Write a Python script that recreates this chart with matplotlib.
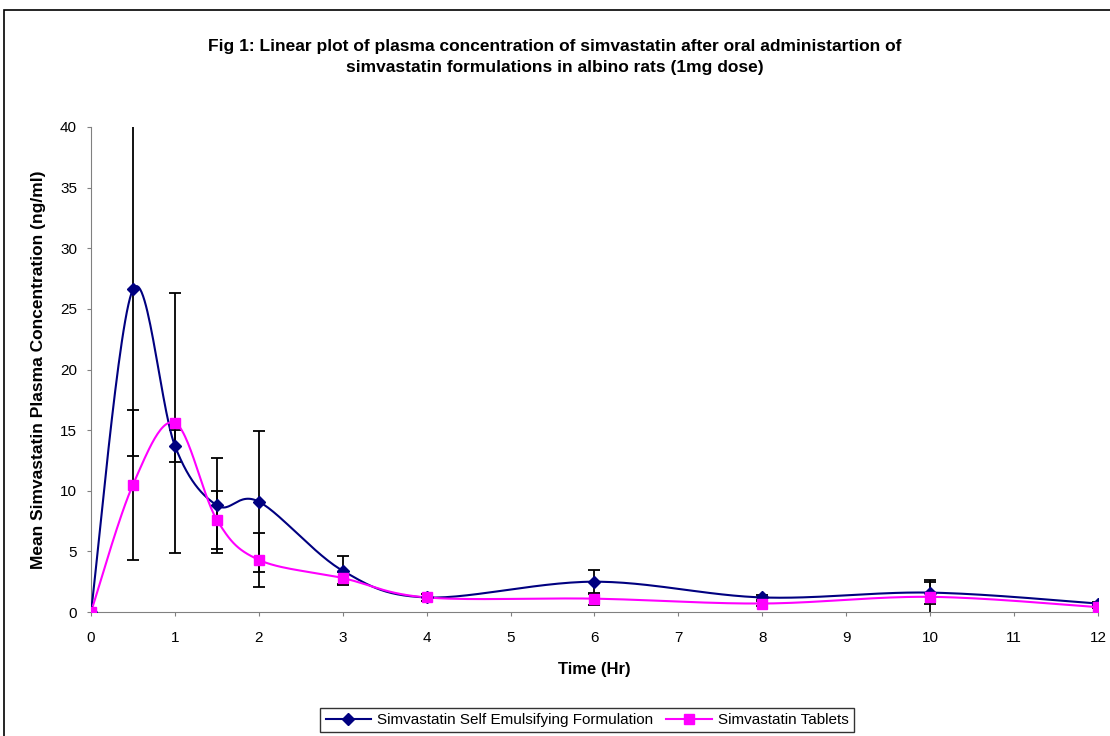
import numpy as np
import matplotlib
matplotlib.use("Agg")
import matplotlib.pyplot as plt
from matplotlib.patches import Rectangle

plt.rcParams['font.family'] = ['Liberation Sans', 'DejaVu Sans']

# time points (hr)
time_hr = [0, 0.5, 1, 1.5, 2, 3, 4, 6, 8, 10, 12]

# Simvastatin Self Emulsifying Formulation
sef_mean = [0, 26.6, 13.7, 8.8, 9.1, 3.4, 1.2, 2.5, 1.2, 1.6, 0.7]
sef_err = [0, 13.7, 1.3, 3.9, 5.8, 1.2, 0.3, 1.0, 0.2, 0.9, 0.1]

# Simvastatin Tablets
tab_mean = [0, 10.5, 15.6, 7.6, 4.3, 2.8, 1.2, 1.1, 0.7, 1.25, 0.4]
tab_err = [0, 6.2, 10.7, 2.4, 2.2, 0.5, 0.3, 0.5, 0.2, 1.35, 0.1]

x_ticks = list(range(0, 13))
y_ticks = list(range(0, 45, 5))


def excel_smooth(xs, ys, n=30):
    # bezier smoothing like the "smoothed line" option in Excel
    px = np.array(xs, dtype=float)
    py = np.array(ys, dtype=float)
    px = np.concatenate([[px[0]], px, [px[-1]]])
    py = np.concatenate([[py[0]], py, [py[-1]]])
    out_x, out_y = [], []
    t = np.linspace(0, 1, n)
    for i in range(1, len(px) - 2):
        p0 = np.array([px[i], py[i]])
        p3 = np.array([px[i + 1], py[i + 1]])
        p1 = p0 + (p3 - np.array([px[i - 1], py[i - 1]])) / 6
        p2 = p3 - (np.array([px[i + 2], py[i + 2]]) - p0) / 6
        b = ((1 - t) ** 3)[:, None] * p0 + (3 * (1 - t) ** 2 * t)[:, None] * p1 \
            + (3 * (1 - t) * t ** 2)[:, None] * p2 + (t ** 3)[:, None] * p3
        out_x.extend(b[:, 0])
        out_y.extend(b[:, 1])
    return out_x, out_y


fig = plt.figure(figsize=(11.1, 7.36), dpi=100)
ax = fig.add_axes([91 / 1110, 1 - 612 / 736, (1098 - 91) / 1110, (612 - 127) / 736])

navy = '#000080'
magenta = '#FF00FF'

for mean, err in [(sef_mean, sef_err), (tab_mean, tab_err)]:
    ax.errorbar(time_hr, mean, yerr=err, fmt='none', ecolor='black',
                elinewidth=1.3, capsize=4, capthick=1.3, zorder=2)

sx, sy = excel_smooth(time_hr, sef_mean)
ax.plot(sx, sy, color=navy, lw=1.5, zorder=3)
ax.plot(time_hr, sef_mean, ls='none', marker='D', ms=6, color=navy, zorder=4)

tx, ty = excel_smooth(time_hr, tab_mean)
ax.plot(tx, ty, color=magenta, lw=1.5, zorder=3)
ax.plot(time_hr, tab_mean, ls='none', marker='s', ms=6.5, color=magenta, zorder=4)

ax.set_xlim(0, 12)
ax.set_ylim(0, 40)
ax.set_xticks(x_ticks)
ax.set_yticks(y_ticks)
ax.tick_params(labelsize=11, length=3, color='#808080', direction='out')
ax.tick_params(axis='x', pad=11)
ax.tick_params(axis='y', pad=7)
ax.spines['top'].set_visible(False)
ax.spines['right'].set_visible(False)
ax.spines['left'].set_color('#808080')
ax.spines['bottom'].set_color('#808080')

ax.set_xlabel('Time (Hr)', fontsize=12, fontweight='bold', labelpad=12)
ax.set_ylabel('Mean Simvastatin Plasma Concentration (ng/ml)', fontsize=12.5,
              fontweight='bold', labelpad=10)

fig.text(0.5, 1 - 57 / 736,
         'Fig 1: Linear plot of plasma concentration of simvastatin after oral administartion of\n'
         'simvastatin formulations in albino rats (1mg dose)',
         ha='center', va='center', fontsize=12.5, fontweight='bold', linespacing=1.5)

# legend
h1, = ax.plot([], [], color=navy, marker='D', ms=6, lw=1.5)
h2, = ax.plot([], [], color=magenta, marker='s', ms=6.5, lw=1.5)
leg = fig.legend([h1, h2], ['Simvastatin Self Emulsifying Formulation', 'Simvastatin Tablets'],
                 loc='center', bbox_to_anchor=(587 / 1110, 1 - 720 / 736), ncol=2,
                 fontsize=11, frameon=True, fancybox=False, edgecolor='black',
                 handlelength=3, handletextpad=0.4, columnspacing=0.8, borderpad=0.35)
leg.get_frame().set_linewidth(1.0)

# outer chart border
fig.patches.append(Rectangle((4 / 1110, -0.01), 1.02, 1 - 10 / 736 + 0.01,
                             transform=fig.transFigure, fill=False,
                             edgecolor='black', lw=1.2))

fig.savefig('out.png', dpi=100)
